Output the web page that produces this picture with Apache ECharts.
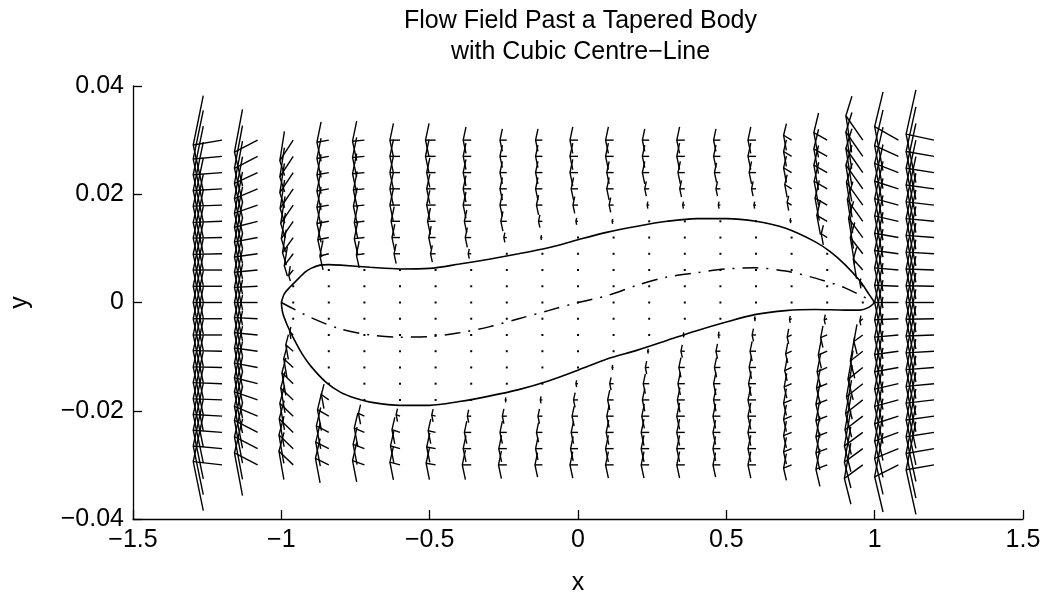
<!DOCTYPE html>
<html><head><meta charset="utf-8">
<script src="https://cdn.jsdelivr.net/npm/echarts/dist/echarts.min.js"></script>
<style>html,body{margin:0;padding:0;background:#fff}#c{width:1048px;height:601px}</style>
</head><body><div id="c"></div>
<script>
// quiver grid
const xGrid = [-1.2,-1.08,-0.96,-0.84,-0.72,-0.6,-0.48,-0.36,-0.24,-0.12,0,0.12,0.24,0.36,0.48,0.6,0.72,0.84,0.96,1.08,1.2];
const yGrid = [0.03,0.027,0.024,0.021,0.018,0.015,0.012,0.009,0.006,0.003,0,-0.003,-0.006,-0.009,-0.012,-0.015,-0.018,-0.021,-0.024,-0.027,-0.03];
// displayed vector components, one inner list per x column (top row first)
const U = [
[-0.097,-0.097,-0.097,-0.097,-0.097,-0.097,-0.097,-0.097,-0.097,-0.097,-0.097,-0.097,-0.097,-0.097,-0.097,-0.097,-0.097,-0.097,-0.097,-0.097,-0.097],
[-0.078,-0.078,-0.078,-0.078,-0.078,-0.078,-0.078,-0.078,-0.078,-0.078,-0.078,-0.078,-0.078,-0.078,-0.078,-0.078,-0.078,-0.078,-0.078,-0.078,-0.078],
[-0.045,-0.045,-0.045,-0.044,-0.042,-0.040,-0.036,-0.030,-0.015,0,0,0,-0.012,-0.025,-0.032,-0.038,-0.042,-0.045,-0.047,-0.048,-0.048],
[-0.040,-0.040,-0.040,-0.040,-0.040,-0.040,-0.037,-0.030,0,0,0,0,0,0,0,0,-0.025,-0.038,-0.042,-0.044,-0.045],
[-0.040,-0.040,-0.040,-0.037,-0.037,-0.034,-0.034,-0.027,0,0,0,0,0,0,0,0,0,-0.020,-0.034,-0.038,-0.040],
[-0.034,-0.034,-0.034,-0.034,-0.034,-0.030,-0.027,-0.020,0,0,0,0,0,0,0,0,0,-0.013,-0.027,-0.032,-0.034],
[-0.034,-0.034,-0.030,-0.030,-0.030,-0.027,-0.023,-0.017,0,0,0,0,0,0,0,0,0,-0.013,-0.025,-0.030,-0.032],
[-0.027,-0.027,-0.027,-0.027,-0.027,-0.023,-0.020,-0.010,0,0,0,0,0,0,0,0,0,-0.013,-0.023,-0.027,-0.030],
[-0.023,-0.023,-0.023,-0.023,-0.023,-0.020,-0.010,0,0,0,0,0,0,0,0,0,-0.005,-0.015,-0.023,-0.027,-0.028],
[-0.023,-0.023,-0.023,-0.023,-0.020,-0.013,-0.005,0,0,0,0,0,0,0,0,0,-0.007,-0.015,-0.020,-0.023,-0.025],
[-0.027,-0.027,-0.027,-0.023,-0.017,-0.007,0,0,0,0,0,0,0,0,0,-0.007,-0.015,-0.020,-0.023,-0.025,-0.027],
[-0.027,-0.027,-0.023,-0.023,-0.015,-0.005,0,0,0,0,0,0,0,0,-0.005,-0.013,-0.020,-0.023,-0.025,-0.027,-0.027],
[-0.023,-0.023,-0.023,-0.015,-0.007,0,0,0,0,0,0,0,0,-0.005,-0.013,-0.020,-0.023,-0.025,-0.027,-0.027,-0.027],
[-0.027,-0.027,-0.023,-0.017,-0.007,0,0,0,0,0,0,0,-0.005,-0.013,-0.020,-0.023,-0.025,-0.027,-0.027,-0.027,-0.027],
[-0.023,-0.023,-0.020,-0.015,-0.007,0,0,0,0,0,0,0,-0.007,-0.015,-0.020,-0.023,-0.023,-0.025,-0.025,-0.025,-0.025],
[-0.027,-0.027,-0.023,-0.015,-0.007,0,0,0,0,0,0,-0.005,-0.013,-0.020,-0.023,-0.025,-0.027,-0.027,-0.027,-0.027,-0.027],
[-0.027,-0.027,-0.027,-0.023,-0.015,-0.005,0,0,0,0,0,-0.007,-0.015,-0.020,-0.023,-0.025,-0.027,-0.027,-0.027,-0.027,-0.027],
[-0.045,-0.045,-0.045,-0.044,-0.041,-0.035,-0.020,0,0,0,0,-0.010,-0.022,-0.030,-0.034,-0.036,-0.038,-0.038,-0.038,-0.038,-0.038],
[-0.057,-0.057,-0.057,-0.057,-0.055,-0.052,-0.048,-0.042,-0.032,-0.010,0,-0.010,-0.030,-0.042,-0.050,-0.055,-0.058,-0.060,-0.062,-0.062,-0.062],
[-0.080,-0.080,-0.080,-0.080,-0.080,-0.080,-0.080,-0.080,-0.080,-0.080,-0.080,-0.080,-0.080,-0.080,-0.080,-0.080,-0.080,-0.080,-0.080,-0.080,-0.080],
[-0.094,-0.094,-0.094,-0.094,-0.094,-0.094,-0.094,-0.094,-0.094,-0.094,-0.094,-0.094,-0.094,-0.094,-0.094,-0.094,-0.094,-0.094,-0.094,-0.094,-0.094]
];
const V = [
[-0.0009,-0.0005,-0.0004,-0.0003,-0.0002,-0.0002,-0.0001,-0.0001,0,0,0,0,0,0.0001,0.0001,0.0002,0.0002,0.0003,0.0004,0.0005,0.0006],
[-0.0022,-0.0022,-0.0020,-0.0018,-0.0015,-0.0011,-0.0008,-0.0006,-0.0004,-0.0002,0,0.0002,0.0004,0.0006,0.0008,0.0011,0.0015,0.0018,0.0022,0.0022,0.0022],
[-0.0038,-0.0038,-0.0037,-0.0036,-0.0034,-0.0032,-0.0028,-0.0022,-0.0010,0,0,0,0.0006,0.0012,0.0016,0.0020,0.0022,0.0024,0.0025,0.0025,0.0025],
[-0.0004,-0.0004,-0.0004,-0.0004,-0.0004,-0.0004,-0.0004,-0.0004,0,0,0,0,0,0,0,0,0.0010,0.0012,0.0012,0.0012,0.0012],
[-0.0002,-0.0002,-0.0002,-0.0002,-0.0002,-0.0002,-0.0002,-0.0002,0,0,0,0,0,0,0,0,0,0.0005,0.0008,0.0008,0.0008],
[0,0,0,0,0,0,0,0,0,0,0,0,0,0,0,0,0,0.0003,0.0005,0.0005,0.0005],
[0,0,0,0,0,0,0,0,0,0,0,0,0,0,0,0,0,0.0002,0.0003,0.0003,0.0003],
[0,0,0,0,0,0,0,0,0,0,0,0,0,0,0,0,0,0,0,0,0],
[0,0,0,0,0,0,0,0,0,0,0,0,0,0,0,0,0,0,0,0,0],
[0,0,0,0,0,0,0,0,0,0,0,0,0,0,0,0,0,0,0,0,0],
[0,0,0,0,0,0,0,0,0,0,0,0,0,0,0,0,0,0,0,0,0],
[0,0,0,0,0,0,0,0,0,0,0,0,0,0,0,0,0,0,0,0,0],
[0,0,0,0,0,0,0,0,0,0,0,0,0,0,0,0,0,0,0,0,0],
[0,0,0,0,0,0,0,0,0,0,0,0,0,0,0,0,0,0,0,0,0],
[0,0,0,0,0,0,0,0,0,0,0,0,0,0,0,0,0,0,0,0,0],
[0,0,0,0,0,0,0,0,0,0,0,0,0,0,0,0,0,0,0,0,0],
[0.0009,0.0009,0.0009,0.0008,0.0005,0.0002,0,0,0,0,0,-0.0002,-0.0004,-0.0005,-0.0006,-0.0006,-0.0006,-0.0006,-0.0006,-0.0006,-0.0006],
[0.0014,0.0014,0.0014,0.0014,0.0013,0.0011,0.0007,0,0,0,0,-0.0002,-0.0005,-0.0007,-0.0008,-0.0008,-0.0008,-0.0008,-0.0008,-0.0008,-0.0008],
[0.0045,0.0045,0.0045,0.0044,0.0042,0.0040,0.0036,0.0030,0.0020,0.0008,0,-0.0005,-0.0012,-0.0018,-0.0022,-0.0024,-0.0025,-0.0025,-0.0025,-0.0025,-0.0025],
[0.0025,0.0020,0.0017,0.0014,0.0012,0.0010,0.0008,0.0006,0.0004,0.0002,0,-0.0002,-0.0004,-0.0006,-0.0008,-0.0010,-0.0012,-0.0014,-0.0016,-0.0018,-0.0022],
[0.0011,0.0009,0.0008,0.0007,0.0006,0.0005,0.0004,0.0003,0.0002,0.0001,0,-0.0001,-0.0002,-0.0003,-0.0004,-0.0005,-0.0006,-0.0007,-0.0008,-0.0009,-0.0009]
];
// body outline and centre-line
const upperX = [-1,-0.99,-0.97,-0.95,-0.92,-0.9,-0.87,-0.84,-0.8,-0.7,-0.6,-0.5,-0.4,-0.3,-0.2,-0.1,0,0.1,0.2,0.3,0.4,0.5,0.6,0.7,0.8,0.85,0.9,0.95,0.98,1];
const upperY = [0,0.0016,0.0029,0.0040,0.0056,0.0063,0.0069,0.0070,0.0069,0.0065,0.0062,0.0063,0.0071,0.0080,0.0090,0.0101,0.0116,0.0130,0.0141,0.0150,0.0155,0.0155,0.0150,0.0137,0.0112,0.0094,0.0070,0.0040,0.0016,0];
const lowerX = [-1,-0.995,-0.98,-0.96,-0.93,-0.9,-0.85,-0.8,-0.75,-0.7,-0.6,-0.5,-0.4,-0.3,-0.2,-0.1,0,0.1,0.2,0.3,0.4,0.5,0.6,0.7,0.8,0.9,0.95,0.98,1];
const lowerY = [0,-0.0020,-0.0042,-0.0065,-0.0095,-0.0118,-0.0147,-0.0166,-0.0177,-0.0184,-0.0190,-0.0190,-0.0183,-0.0173,-0.0161,-0.0145,-0.0125,-0.0104,-0.0088,-0.0070,-0.0052,-0.0036,-0.0022,-0.0015,-0.0013,-0.0014,-0.0014,-0.0009,0];
const centreX = [-1,-0.9,-0.8,-0.7,-0.6,-0.5,-0.4,-0.3,-0.2,-0.1,0,0.1,0.2,0.3,0.4,0.5,0.6,0.7,0.8,0.9,1];
const centreY = [0,-0.0028,-0.0049,-0.0060,-0.0064,-0.0063,-0.0056,-0.0045,-0.0030,-0.0015,0,0.0013,0.0032,0.0047,0.0055,0.0062,0.0064,0.0058,0.0045,0.0027,0];
const xTicks = [-1.5,-1,-0.5,0,0.5,1,1.5];
const yTicks = [-0.04,-0.02,0,0.02,0.04];
const titleLines = ['Flow Field Past a Tapered Body', 'with Cubic Centre\u2212Line'];

const FONT = "'Liberation Sans', Arial, Helvetica, sans-serif";
const ALPHA = 0.35, BETA = 0.26;
const quiverData = [];
for (let i = 0; i < xGrid.length; i++) {
  for (let k = 0; k < yGrid.length; k++) {
    quiverData.push([xGrid[i], yGrid[k], U[i][k], V[i][k]]);
  }
}
const zip = (a, b) => a.map((v, i) => [v, b[i]]);
const fmt = v => String(v).replace('-', '\u2212');

function renderArrow(params, api) {
  const x = api.value(0), y = api.value(1), u = api.value(2), v = api.value(3);
  const p0 = api.coord([x, y]);
  if (u === 0 && v === 0) {
    return {type: 'rect', shape: {x: p0[0] - 1, y: p0[1] - 1, width: 2, height: 2}, style: {fill: '#000'}};
  }
  const tx = x + u, ty = y + v;
  const p1 = api.coord([tx, ty]);
  const w1 = api.coord([tx - ALPHA * (u + BETA * v), ty - ALPHA * (v - BETA * u)]);
  const w2 = api.coord([tx - ALPHA * (u - BETA * v), ty - ALPHA * (v + BETA * u)]);
  return {type: 'group', children: [
    {type: 'polyline', shape: {points: [p0, p1]}, style: {stroke: '#000', lineWidth: 1.4, fill: 'none'}},
    {type: 'polyline', shape: {points: [w1, p1, w2]}, style: {stroke: '#000', lineWidth: 1.4, fill: 'none'}}
  ]};
}

const chart = echarts.init(document.getElementById('c'), null, {renderer: 'canvas'});
chart.setOption({
  animation: false,
  backgroundColor: '#fff',
  title: {
    text: titleLines.join('\n'),
    left: 575.5, top: 1, textAlign: 'center',
    textStyle: {fontFamily: FONT, fontSize: 25, fontWeight: 'normal', color: '#000', lineHeight: 31}
  },
  grid: {left: 128, right: 25, top: 86, bottom: 75, containLabel: false},
  xAxis: {
    type: 'value', min: -1.5, max: 1.5, interval: 0.5,
    name: 'x', nameLocation: 'middle', nameGap: 52,
    nameTextStyle: {fontFamily: FONT, fontSize: 25, color: '#000'},
    axisLine: {onZero: false, lineStyle: {color: '#000', width: 1.3}},
    axisTick: {inside: true, length: 9, lineStyle: {color: '#000', width: 1.3}},
    axisLabel: {fontFamily: FONT, fontSize: 25, color: '#000', margin: 9, formatter: fmt},
    splitLine: {show: false}
  },
  yAxis: {
    type: 'value', min: -0.04, max: 0.04, interval: 0.02,
    name: 'y', nameLocation: 'middle', nameGap: 100, nameRotate: 90,
    nameTextStyle: {fontFamily: FONT, fontSize: 25, color: '#000'},
    axisLine: {onZero: false, lineStyle: {color: '#000', width: 1.3}},
    axisTick: {inside: true, length: 9, lineStyle: {color: '#000', width: 1.3}},
    axisLabel: {fontFamily: FONT, fontSize: 25, color: '#000', margin: 9, formatter: fmt},
    splitLine: {show: false}
  },
  series: [
    {type: 'custom', coordinateSystem: 'cartesian2d', renderItem: renderArrow, data: quiverData,
     encode: {x: 0, y: 1}, clip: false, silent: true, z: 2},
    {type: 'line', data: zip(upperX, upperY), symbol: 'none', smooth: 0.3,
     lineStyle: {color: '#000', width: 1.6}, z: 3},
    {type: 'line', data: zip(lowerX, lowerY), symbol: 'none', smooth: 0.3,
     lineStyle: {color: '#000', width: 1.6}, z: 3},
    {type: 'line', data: zip(centreX, centreY), symbol: 'none', smooth: 0.3,
     lineStyle: {color: '#000', width: 1.5, type: [16, 8, 2, 8]}, z: 3}
  ]
});
</script>
</body></html>
